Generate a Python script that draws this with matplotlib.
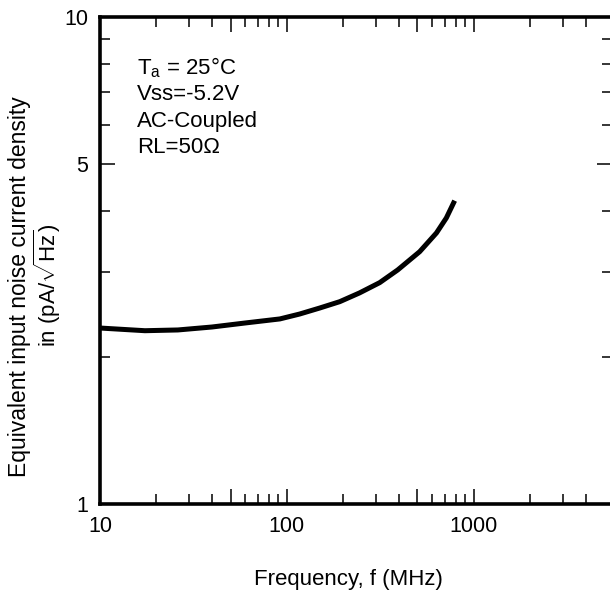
import matplotlib
matplotlib.use("Agg")
import matplotlib.pyplot as plt
from matplotlib.ticker import FixedLocator, NullFormatter, FixedFormatter

plt.rcParams['font.family'] = ['Liberation Sans', 'DejaVu Sans']
plt.rcParams['mathtext.fontset'] = 'custom'
plt.rcParams['mathtext.rm'] = 'Liberation Sans'
plt.rcParams['mathtext.it'] = 'Liberation Sans'

# data
freq_mhz = [10, 17.4, 26.1, 39.7, 59.6, 91.8, 117, 150, 192, 245, 314, 392, 514, 632, 714, 791]
noise = [2.298, 2.269, 2.277, 2.309, 2.353, 2.399, 2.455, 2.526, 2.603, 2.713, 2.848, 3.024,
         3.297, 3.602, 3.867, 4.196]

x_major = [10, 100, 1000]
x_major_labels = ["10", "100", "1000"]
x_mid = [50, 500]
x_minor = [20, 30, 40, 60, 70, 80, 90, 200, 300, 400, 600, 700, 800, 900, 2000, 3000, 4000]
y_major = [1, 5, 10]
y_major_labels = ["1", "5", "10"]
y_minor = [2, 3, 4, 6, 7, 8, 9]

notes = ["T$_\\mathrm{a}$ = 25°C", "Vss=-5.2V", "AC-Coupled", "RL=50Ω"]

W, H = 610, 600
fig = plt.figure(figsize=(W / 100, H / 100), dpi=100)
l, r, t, b = 100, 612, 17, 504
ax = fig.add_axes([l / W, (H - b) / H, (r - l) / W, (b - t) / H])

ax.plot(freq_mhz, noise, color='black', lw=3.6, solid_capstyle='butt', solid_joinstyle='round')
ax.set_xscale('log')
ax.set_yscale('log')
ax.set_xlim(10, 5500)
ax.set_ylim(1, 10)

ax.xaxis.set_major_locator(FixedLocator(x_major + x_mid))
ax.xaxis.set_major_formatter(FixedFormatter(x_major_labels + ["", ""]))
ax.xaxis.set_minor_locator(FixedLocator(x_minor))
ax.xaxis.set_minor_formatter(NullFormatter())
ax.yaxis.set_major_locator(FixedLocator(y_major))
ax.yaxis.set_major_formatter(FixedFormatter(y_major_labels))
ax.yaxis.set_minor_locator(FixedLocator(y_minor))
ax.yaxis.set_minor_formatter(NullFormatter())

for s in ax.spines.values():
    s.set_linewidth(2.6)
ax.tick_params(which='both', direction='in', top=True, right=True, width=1.1, colors='black')
ax.tick_params(which='major', length=11, labelsize=15.5)
ax.tick_params(axis='x', which='major', pad=9)
ax.tick_params(axis='y', which='major', pad=8.5)
ax.tick_params(which='minor', length=7.5)

for i, s in enumerate(notes):
    fig.text(137 / W, 1 - (68 + 26.5 * i) / H, s, fontsize=16, ha='left', va='center')

fig.text(20 / W, 1 - 287 / H, "Equivalent input noise current density", rotation=90,
         fontsize=16.5, ha='center', va='center')
fig.text(47 / W, 1 - 285 / H, "in (pA/$\\sqrt{\\mathrm{Hz}}$)", rotation=90,
         fontsize=16, ha='center', va='center')
fig.text(348 / W, 1 - 580 / H, "Frequency, f (MHz)", fontsize=16, ha='center', va='center')

fig.savefig("out.png", dpi=100)
